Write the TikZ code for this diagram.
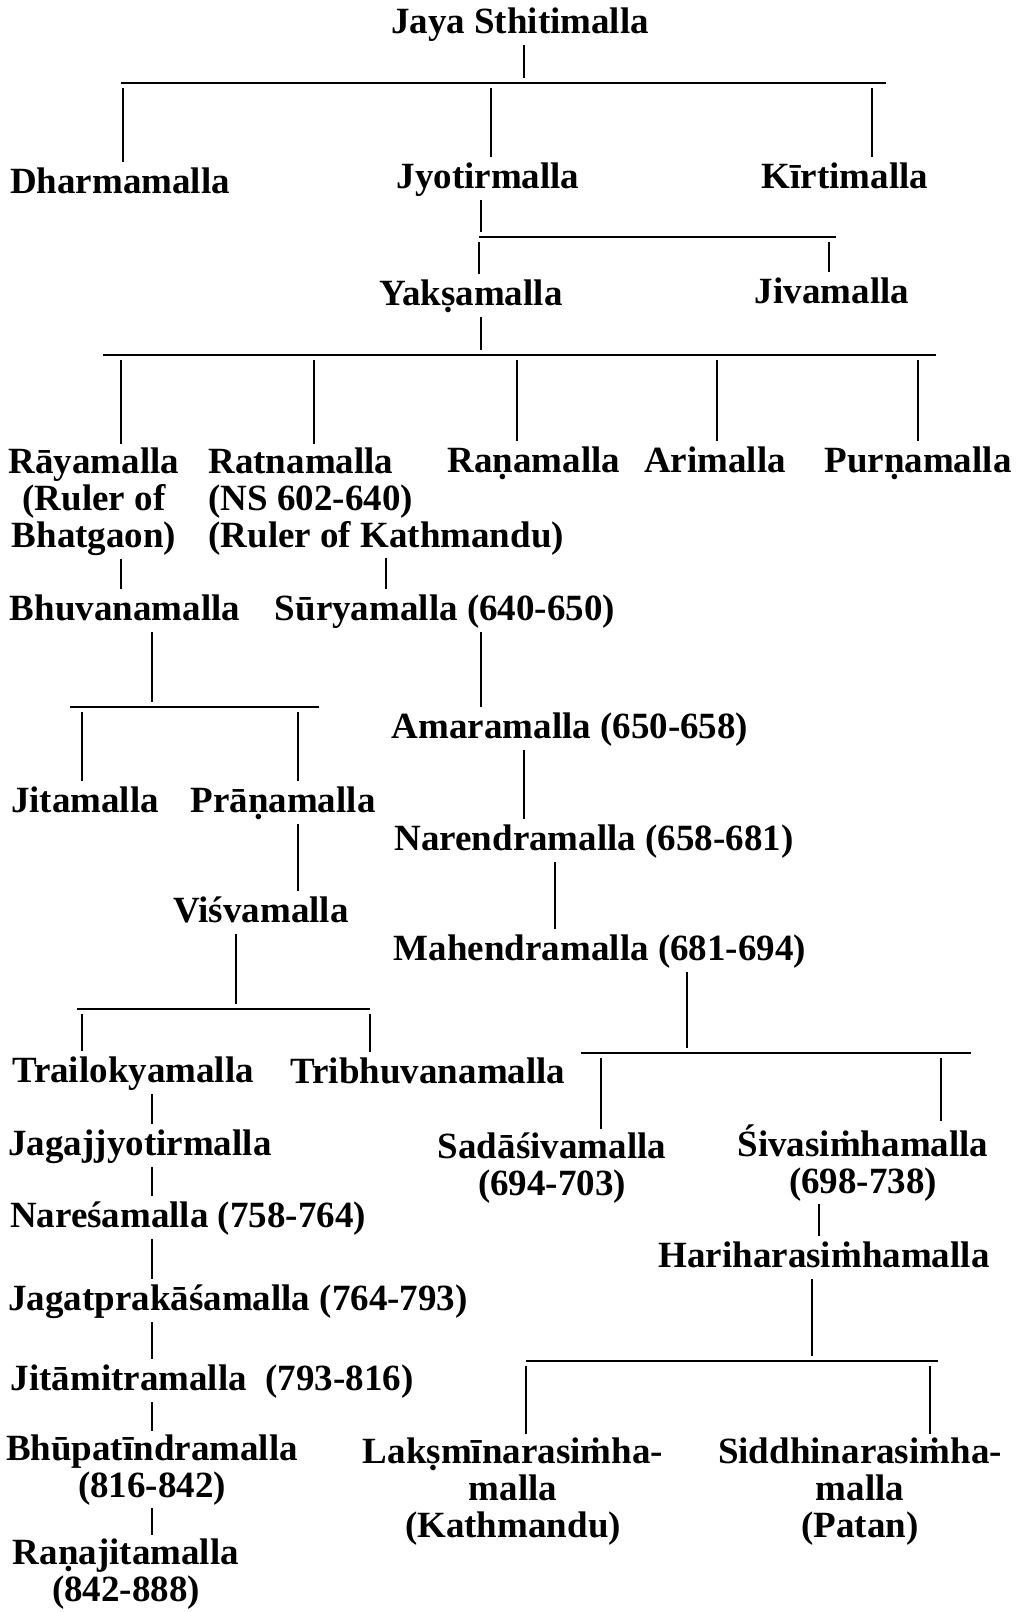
\documentclass[tikz,border=0pt]{standalone}
\usepackage{fontspec}
\setmainfont{Liberation Serif}
\usepackage{tikz}

\newcommand{\kinfont}{\fontsize{18.5}{18.5}\selectfont\bfseries}

\begin{document}
\begin{tikzpicture}[x=0.5pt, y=-0.5pt,
    kin/.style={font=\kinfont, inner sep=1.5pt, anchor=base, text height=14pt, text depth=4.5pt},
    kinblock/.style={font=\kinfont, inner sep=1.5pt, anchor=base, align=center},
    link/.style={line width=1.2pt},
    tobar/.style={link, shorten >=2.5pt},
    frombar/.style={link, shorten <=2.5pt}]
            \useasboundingbox (0,0) rectangle (1022,1612);
            % the rulers (blocks sit on their last line)
            \node[kin] (jaya) at (520,33) {Jaya Sthitimalla};
            \node[kin] (dharma) at (120,193) {Dharmamalla};
            \node[kin] (jyotir) at (488,188) {Jyotirmalla};
            \node[kin] (kirti) at (845,188) {Kīrtimalla};
            \node[kin] (yaksa) at (471,305) {Yakṣamalla};
            \node[kin] (jiva) at (832,303) {Jivamalla};
            \node[kinblock] (raya) at (94,547) {Rāyamalla\\(Ruler of\\Bhatgaon)};
            \node[kinblock, align=left, anchor=base west] (ratna) at (205,547) {Ratnamalla\\(NS 602-640)\\(Ruler of Kathmandu)};
            \node[kin] (rana) at (534,472) {Raṇamalla};
            \node[kin] (ari) at (715,472) {Arimalla};
            \node[kin] (purna) at (918,472) {Purṇamalla};
            \node[kin] (bhuvana) at (125,620) {Bhuvanamalla};
            \node[kin] (surya) at (445,620) {Sūryamalla (640-650)};
            \node[kin] (amara) at (570,738) {Amaramalla (650-658)};
            \node[kin] (jita) at (85,812) {Jitamalla};
            \node[kin] (prana) at (283,812) {Prāṇamalla};
            \node[kin] (narendra) at (594,850) {Narendramalla (658-681)};
            \node[kin] (visva) at (261,922) {Viśvamalla};
            \node[kin] (mahendra) at (600,960) {Mahendramalla (681-694)};
            \node[kin] (trailokya) at (133,1082) {Trailokyamalla};
            \node[kin] (tribhuvana) at (428,1083) {Tribhuvanamalla};
            \node[kinblock] (sadasiva) at (552,1195) {Sadāśivamalla\\(694-703)};
            \node[kinblock] (sivasimha) at (863,1193) {Śivasiṁhamalla\\(698-738)};
            \node[kin] (jagaj) at (140,1155) {Jagajjyotirmalla};
            \node[kin] (naresa) at (188,1227) {Nareśamalla (758-764)};
            \node[kin] (harihara) at (824,1267) {Hariharasiṁhamalla};
            \node[kin] (jagat) at (238,1310) {Jagatprakāśamalla (764-793)};
            \node[kin] (jitamitra) at (212,1390) {Jitāmitramalla\ \ (793-816)};
            \node[kinblock] (bhupa) at (152,1497) {Bhūpatīndramalla\\(816-842)};
            \node[kinblock] (ranajita) at (126,1601) {Raṇajitamalla\\(842-888)};
            \node[kinblock] (laksmi) at (513,1537) {Lakṣmīnarasiṁha-\\malla\\(Kathmandu)};
            \node[kinblock] (siddhi) at (860,1537) {Siddhinarasiṁha-\\malla\\(Patan)};

            % sons of Jaya Sthitimalla
            \coordinate (bar1w) at (121,83);
            \coordinate (bar1e) at (886,83);
            \coordinate (jaya-down) at (524,83);
            \coordinate (dharma-up) at (123,83);
            \coordinate (jyotir-up) at (491,83);
            \coordinate (kirti-up) at (872,83);
            \draw[link] (bar1w) -- (bar1e);
            \draw[tobar] (jaya.south -| jaya-down) -- (jaya-down);
            \draw[frombar] (dharma-up) -- (dharma.north -| dharma-up);
            \draw[frombar] (jyotir-up) -- (jyotir.north -| jyotir-up);
            \draw[frombar] (kirti-up) -- (kirti.north -| kirti-up);

            % sons of Jyotirmalla
            \coordinate (bar2e) at (836,237);
            \coordinate (jyotir-down) at (481,237);
            \coordinate (yaksa-up) at (479,237);
            \coordinate (jiva-up) at (829,237);
            \draw[link] (yaksa-up) -- (bar2e);
            \draw[tobar] (jyotir.south -| jyotir-down) -- (jyotir-down);
            \draw[frombar] (yaksa-up) -- (yaksa.north -| yaksa-up);
            \draw[frombar] (jiva-up) -- (jiva.north -| jiva-up);

            % sons of Yaksamalla
            \coordinate (bar3w) at (103,355);
            \coordinate (bar3e) at (936,355);
            \coordinate (yaksa-down) at (481,355);
            \coordinate (raya-up) at (121,355);
            \coordinate (ratna-up) at (314,355);
            \coordinate (rana-up) at (517,355);
            \coordinate (ari-up) at (717,355);
            \coordinate (purna-up) at (918,355);
            \draw[link] (bar3w) -- (bar3e);
            \draw[tobar] (yaksa.south -| yaksa-down) -- (yaksa-down);
            \draw[frombar] (raya-up) -- (raya.north -| raya-up);
            \draw[frombar] (ratna-up) -- (ratna.north -| ratna-up);
            \draw[frombar] (rana-up) -- (rana.north -| rana-up);
            \draw[frombar] (ari-up) -- (ari.north -| ari-up);
            \draw[frombar] (purna-up) -- (purna.north -| purna-up);

            % Bhatgaon line
            \coordinate (raya-down) at (121,600);
            \draw[link] (raya.south -| raya-down) -- (bhuvana.north -| raya-down);
            \coordinate (bar4w) at (70,707);
            \coordinate (bar4e) at (319,707);
            \coordinate (bhuvana-down) at (152,707);
            \coordinate (jita-up) at (82,707);
            \coordinate (prana-up) at (298,707);
            \draw[link] (bar4w) -- (bar4e);
            \draw[tobar] (bhuvana.south -| bhuvana-down) -- (bhuvana-down);
            \draw[frombar] (jita-up) -- (jita.north -| jita-up);
            \draw[frombar] (prana-up) -- (prana.north -| prana-up);
            \draw[link] (prana.south -| prana-up) -- (visva.north -| prana-up);
            \coordinate (bar5w) at (77,1009);
            \coordinate (bar5e) at (370,1009);
            \coordinate (visva-down) at (236,1009);
            \coordinate (trailokya-up) at (82,1009);
            \coordinate (tribhuvana-up) at (370,1009);
            \draw[link] (bar5w) -- (bar5e);
            \draw[tobar] (visva.south -| visva-down) -- (visva-down);
            \draw[frombar] (trailokya-up) -- (trailokya.north -| trailokya-up);
            \draw[frombar] (tribhuvana-up) -- (tribhuvana.north -| tribhuvana-up);
            \coordinate (bhatgaon-down) at (152,1100);
            \draw[link] (trailokya.south -| bhatgaon-down) -- (jagaj.north -| bhatgaon-down);
            \draw[link] (jagaj.south -| bhatgaon-down) -- (naresa.north -| bhatgaon-down);
            \draw[link] (naresa.south -| bhatgaon-down) -- (jagat.north -| bhatgaon-down);
            \draw[link] (jagat.south -| bhatgaon-down) -- (jitamitra.north -| bhatgaon-down);
            \draw[link] (jitamitra.south -| bhatgaon-down) -- (bhupa.north -| bhatgaon-down);
            \draw[link] (bhupa.south -| bhatgaon-down) -- (ranajita.north -| bhatgaon-down);

            % Kathmandu line
            \coordinate (ratna-down) at (386,600);
            \coordinate (surya-down) at (481,680);
            \coordinate (amara-down) at (524,780);
            \coordinate (narendra-down) at (555,900);
            \draw[link] (ratna.south -| ratna-down) -- (surya.north -| ratna-down);
            \draw[link] (surya.south -| surya-down) -- (amara.north -| surya-down);
            \draw[link] (amara.south -| amara-down) -- (narendra.north -| amara-down);
            \draw[link] (narendra.south -| narendra-down) -- (mahendra.north -| narendra-down);
            \coordinate (bar6w) at (581,1053);
            \coordinate (bar6e) at (971,1053);
            \coordinate (mahendra-down) at (687,1053);
            \coordinate (sadasiva-up) at (601,1053);
            \coordinate (sivasimha-up) at (941,1053);
            \draw[link] (bar6w) -- (bar6e);
            \draw[tobar] (mahendra.south -| mahendra-down) -- (mahendra-down);
            \draw[frombar] (sadasiva-up) -- (sadasiva.north -| sadasiva-up);
            \draw[frombar] (sivasimha-up) -- (sivasimha.north -| sivasimha-up);
            \coordinate (sivasimha-down) at (819,1220);
            \draw[link] (sivasimha.south -| sivasimha-down) -- (harihara.north -| sivasimha-down);
            \coordinate (bar7w) at (526,1361);
            \coordinate (bar7e) at (938,1361);
            \coordinate (harihara-down) at (812,1361);
            \coordinate (laksmi-up) at (526,1361);
            \coordinate (siddhi-up) at (930,1361);
            \draw[link] (bar7w) -- (bar7e);
            \draw[tobar] (harihara.south -| harihara-down) -- (harihara-down);
            \draw[frombar] (laksmi-up) -- (laksmi.north -| laksmi-up);
            \draw[frombar] (siddhi-up) -- (siddhi.north -| siddhi-up);
\end{tikzpicture}
\end{document}
